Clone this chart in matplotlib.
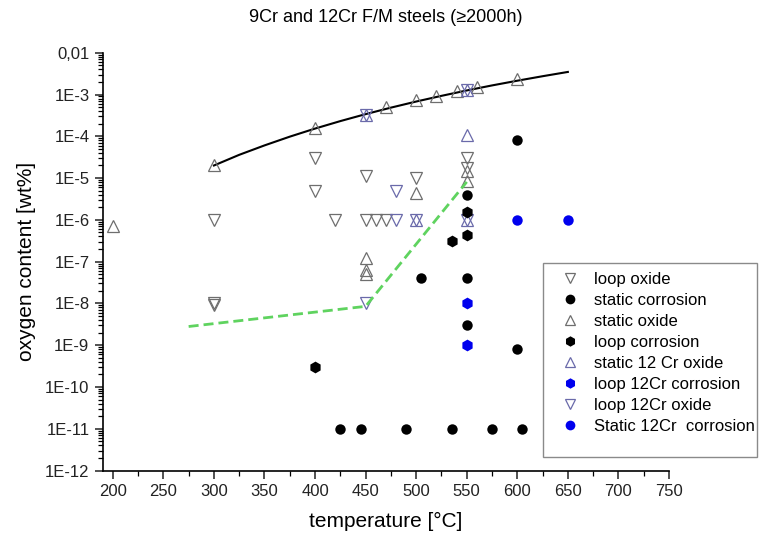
import matplotlib
matplotlib.use('Agg')
import matplotlib.pyplot as plt
from matplotlib.lines import Line2D
from matplotlib.patches import Rectangle
from matplotlib.ticker import FixedLocator, FuncFormatter, MultipleLocator, LogLocator, NullFormatter

plt.rcParams['font.family'] = ['Liberation Sans', 'DejaVu Sans']

# --- data (temperature in degC, oxygen in wt%) ---
loop_oxide_T = [300, 400, 400, 420, 450, 450, 460, 470, 500, 550, 550, 300, 300]
loop_oxide_O = [1e-6, 3e-5, 5e-6, 1e-6, 1.1e-5, 1e-6, 1e-6, 1e-6, 1e-5, 3e-5, 1.7e-5, 1e-8, 9e-9]

static_oxide_T = [200, 300, 400, 470, 500, 520, 540, 560, 600, 450, 450, 450, 500, 550, 550]
static_oxide_O = [7e-7, 2e-5, 1.6e-4, 4.9e-4, 7.4e-4, 9.3e-4, 1.2e-3, 1.5e-3, 2.3e-3,
                  1.2e-7, 6.2e-8, 5.1e-8, 4.3e-6, 1.45e-5, 8.5e-6]

static_corr_T = [600, 550, 505, 550, 550, 600, 425, 445, 490, 535, 575, 605]
static_corr_O = [8.3e-5, 4e-6, 4e-8, 4e-8, 3e-9, 8e-10, 1e-11, 1e-11, 1e-11, 1e-11, 1e-11, 1e-11]

loop_corr_T = [400, 550, 550, 535]
loop_corr_O = [3e-10, 1.5e-6, 4.3e-7, 3.1e-7]

static12_oxide_T = [450, 500, 550, 550, 550]
static12_oxide_O = [3.3e-4, 1e-6, 1e-6, 1.07e-4, 1.3e-3]

loop12_oxide_T = [450, 480, 480, 500, 550, 550, 450]
loop12_oxide_O = [3.3e-4, 5e-6, 1e-6, 1e-6, 1e-6, 1.3e-3, 1e-8]

loop12_corr_T = [550, 550]
loop12_corr_O = [1e-8, 1e-9]

static12_corr_T = [600, 650]
static12_corr_O = [1e-6, 1e-6]

# solubility curve
sol_T = [300, 325, 350, 375, 400, 425, 450, 475, 500, 525, 550, 575, 600, 625, 650]
sol_O = [2.0e-5, 3.6e-5, 6.05e-5, 9.8e-5, 1.53e-4, 2.31e-4, 3.39e-4, 4.85e-4,
         6.79e-4, 9.29e-4, 1.25e-3, 1.65e-3, 2.14e-3, 2.74e-3, 3.47e-3]

# green dashed guide
guide_T = [275, 450, 550]
guide_O = [2.8e-9, 8.5e-9, 8.1e-6]

ytick_vals = [1e-2, 1e-3, 1e-4, 1e-5, 1e-6, 1e-7, 1e-8, 1e-9, 1e-10, 1e-11, 1e-12]
ytick_labels = ['0,01', '1E-3', '1E-4', '1E-5', '1E-6', '1E-7', '1E-8', '1E-9', '1E-10', '1E-11', '1E-12']

GRAY = '#6e6e6e'
SLATE = '#6a6aaa'
BLUE = '#0000ee'

fig = plt.figure(figsize=(7.59, 5.37), dpi=100)
ax = fig.add_axes([0.1353, 0.1238, 0.7461, 0.778])

ax.plot(sol_T, sol_O, color='black', lw=1.5, zorder=2)

tri = dict(linestyle='none', markersize=9, markerfacecolor='none', markeredgewidth=0.9)
ax.plot(loop_oxide_T, loop_oxide_O, marker='v', markeredgecolor=GRAY, zorder=3, **tri)
ax.plot(static_oxide_T, static_oxide_O, marker='^', markeredgecolor=GRAY, zorder=3, **tri)
ax.plot(static12_oxide_T, static12_oxide_O, marker='^', markeredgecolor=SLATE, zorder=3, **tri)
ax.plot(loop12_oxide_T, loop12_oxide_O, marker='v', markeredgecolor=SLATE, zorder=3, **tri)

dot = dict(linestyle='none', markersize=7.5, markeredgewidth=0)
hexm = dict(linestyle='none', markersize=8.5, markeredgewidth=0)
ax.plot(static_corr_T, static_corr_O, marker='o', color='black', zorder=3, **dot)
ax.plot(loop_corr_T, loop_corr_O, marker='h', color='black', zorder=3, **hexm)
ax.plot(loop12_corr_T, loop12_corr_O, marker='h', color=BLUE, zorder=3, **hexm)
ax.plot(static12_corr_T, static12_corr_O, marker='o', color=BLUE, zorder=3, **dot)

ax.plot(guide_T, guide_O, color='#5fd35f', lw=2, linestyle=(0, (3.6, 1.8)), zorder=4)

ax.set_yscale('log')
ax.set_xlim(190, 750)
ax.set_ylim(1e-12, 1e-2)

ax.yaxis.set_major_locator(FixedLocator(ytick_vals))
ax.yaxis.set_major_formatter(FuncFormatter(lambda v, p: ytick_labels[ytick_vals.index(min(ytick_vals, key=lambda t: abs(t - v) / t))]))
ax.yaxis.set_minor_locator(LogLocator(base=10, subs=range(2, 10), numticks=50))
ax.yaxis.set_minor_formatter(NullFormatter())
ax.set_xticks(range(200, 751, 50))
ax.xaxis.set_minor_locator(MultipleLocator(25))

for s in ['top', 'right']:
    ax.spines[s].set_visible(False)
for s in ['left', 'bottom']:
    ax.spines[s].set_linewidth(1.2)
ax.tick_params(which='major', direction='out', length=6, width=1.1, labelsize=12, colors='#222222')
ax.tick_params(which='minor', direction='out', length=3.5, width=0.9)

ax.set_xlabel('temperature [°C]', fontsize=15)
ax.set_ylabel('oxygen content [wt%]', fontsize=15)
ax.xaxis.set_label_coords(0.5, -0.1)
ax.yaxis.set_label_coords(-0.118, 0.5)
fig.text(386 / 759, 1 - 18 / 537, '9Cr and 12Cr F/M steels (\u22652000h)', fontsize=13,
         ha='center', va='center')

ltri = dict(linestyle='none', markersize=7.5, markerfacecolor='none', markeredgewidth=0.9)
ldot = dict(linestyle='none', markersize=7, markeredgewidth=0)
lhex = dict(linestyle='none', markersize=7.5, markeredgewidth=0)
handles = [
    Line2D([], [], marker='v', markeredgecolor=GRAY, **ltri),
    Line2D([], [], marker='o', color='black', **ldot),
    Line2D([], [], marker='^', markeredgecolor=GRAY, **ltri),
    Line2D([], [], marker='h', color='black', **lhex),
    Line2D([], [], marker='^', markeredgecolor=SLATE, **ltri),
    Line2D([], [], marker='h', color=BLUE, **lhex),
    Line2D([], [], marker='v', markeredgecolor=SLATE, **ltri),
    Line2D([], [], marker='o', color=BLUE, **ldot),
]
labels = ['loop oxide', 'static corrosion', 'static oxide', 'loop corrosion',
          'static 12 Cr oxide', 'loop 12Cr corrosion', 'loop 12Cr oxide', 'Static 12Cr  corrosion']
fig.legend(handles, labels, loc='upper left', bbox_to_anchor=(564 / 759, 1 - 272 / 537),
           frameon=False, fontsize=12, handlelength=0.75, handletextpad=1.05,
           labelspacing=0.36, borderpad=0, borderaxespad=0)
fig.patches.append(Rectangle((542.7 / 759, 1 - 456.7 / 537), (757 - 542.7) / 759, (456.7 - 263) / 537,
                             transform=fig.transFigure, fill=False, edgecolor='#8a8a8a', lw=1.0))

fig.savefig('out.png', dpi=100)
